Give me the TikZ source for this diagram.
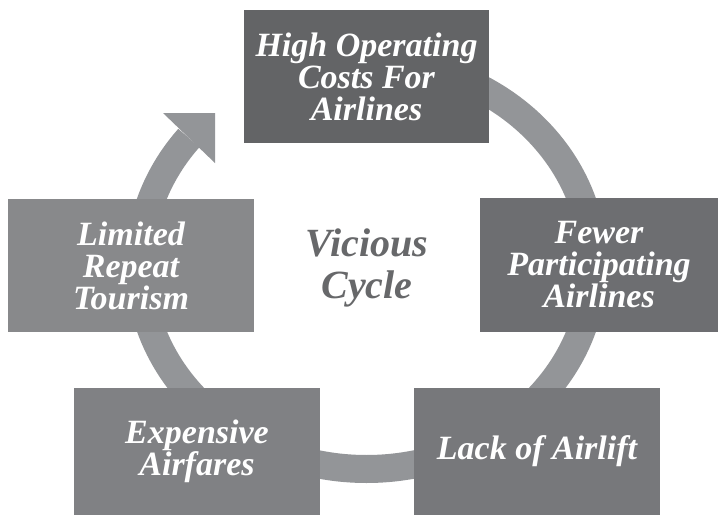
\documentclass[tikz,border=0pt]{standalone}
\usepackage{fontspec}
\setmainfont{Liberation Serif}
\definecolor{ringc}{HTML}{939598}
\definecolor{ctop}{HTML}{636466}
\definecolor{cright}{HTML}{6D6E71}
\definecolor{cbr}{HTML}{77787B}
\definecolor{cbl}{HTML}{808184}
\definecolor{cleft}{HTML}{88898B}
\definecolor{ctitle}{HTML}{67686A}
\begin{document}
\begin{tikzpicture}[x=1pt,y=-1pt,
  box/.style={rectangle, inner sep=0pt, align=center, text=white,
    font=\fontsize{34}{32}\selectfont\bfseries\itshape},
  ring/.style={draw=ringc, line width=28pt, line cap=butt}]
\useasboundingbox[fill=white] (0,0) rectangle (719,515);
% ring
\draw[ring] plot[domain=-90:218.5, samples=240, smooth]
  ({366.5+227*cos(\x)},{265+204*sin(\x)});
\fill[ringc] (163,113) -- (215,113) -- (215,163) -- cycle;
% boxes
\node[box, fill=ctop, minimum width=245pt, minimum height=133pt] (top) at (366.5,76.5)
  {High Operating\\Costs For\\Airlines};
\node[box, fill=cright, minimum width=238pt, minimum height=134pt] (right) at (599,265)
  {Fewer\\Participating\\Airlines};
\node[box, fill=cbr, minimum width=246pt, minimum height=127pt] (br) at (537,451.5)
  {Lack of Airlift};
\node[box, fill=cbl, minimum width=246pt, minimum height=127pt] (bl) at (197,451.5)
  {Expensive\\Airfares};
\node[box, fill=cleft, minimum width=246pt, minimum height=133pt] (left) at (131,265.5)
  {Limited\\Repeat\\Tourism};
\node[text=ctitle, align=center, font=\fontsize{40}{42}\selectfont\bfseries\itshape] (title) at (367,268)
  {Vicious\\Cycle};
\end{tikzpicture}
\end{document}
